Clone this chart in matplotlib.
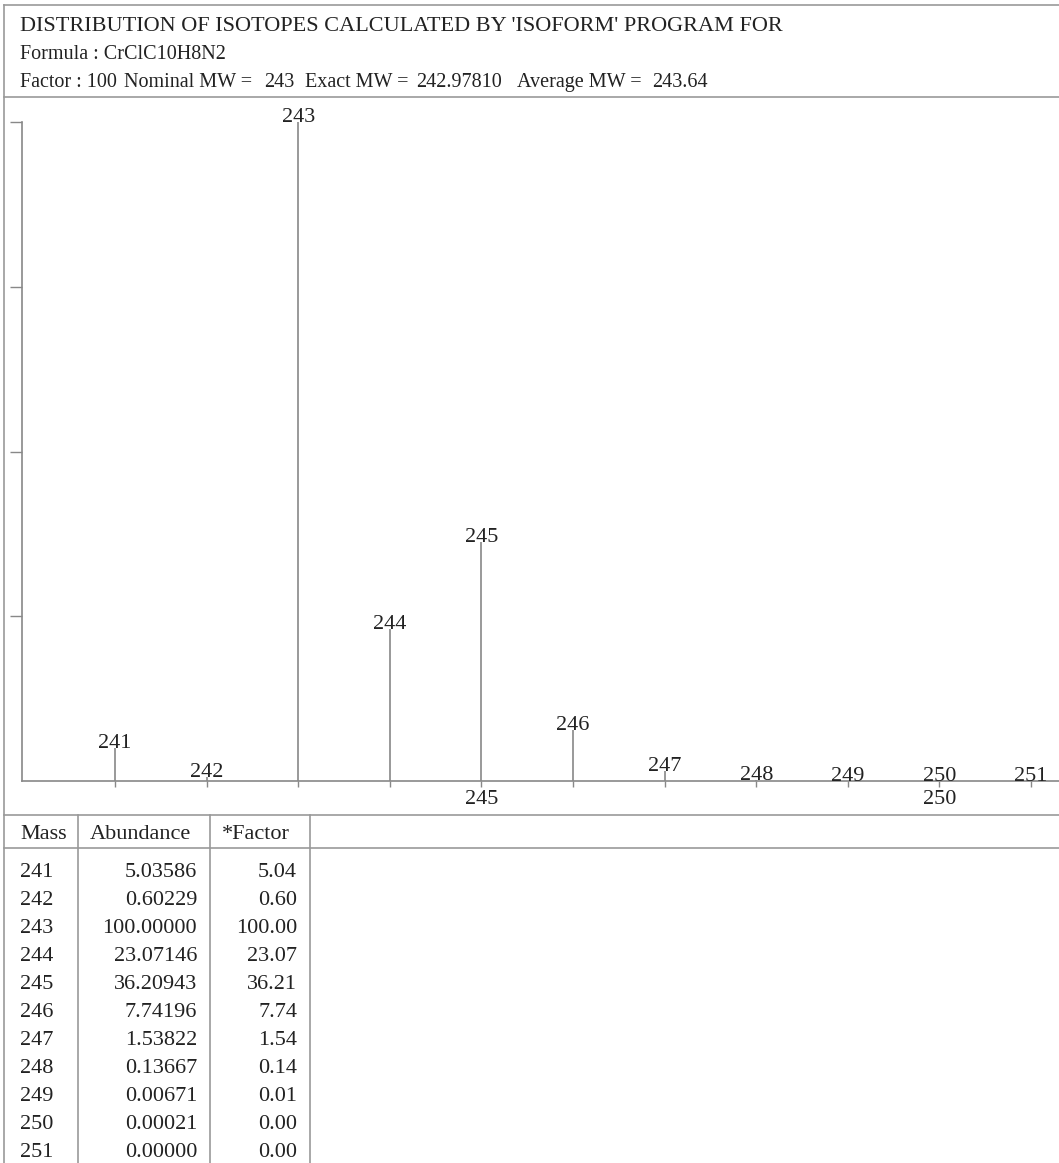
import matplotlib
matplotlib.use("Agg")
import matplotlib.pyplot as plt
from matplotlib.lines import Line2D

# isotope table
masses = [241, 242, 243, 244, 245, 246, 247, 248, 249, 250, 251]
abundance = [5.03586, 0.60229, 100.00000, 23.07146, 36.20943, 7.74196,
             1.53822, 0.13667, 0.00671, 0.00021, 0.00000]
factor = 100
tick_labels = [245, 250]

title = "DISTRIBUTION OF ISOTOPES CALCULATED BY 'ISOFORM' PROGRAM FOR"
formula = "Formula : CrClC10H8N2"
info_parts = [("Factor : 100", 20), ("Nominal MW =", 124), ("243", 264),
              ("Exact MW =", 305), ("242.97810", 416), ("Average MW =", 517),
              ("243.64", 652)]

W, H = 1059, 1163
plt.rcParams['font.family'] = ['Liberation Serif', 'DejaVu Serif']
FS = 16
FS_HEAD = 14.5
TXT = '#222222'
GRID = '#999999'

fig = plt.figure(figsize=(W / 100, H / 100), dpi=100)


def fx(x):
    return x / W


def fy(y):
    return 1 - y / H


def hline(y, x0=4, x1=W, c=GRID):
    fig.add_artist(Line2D([fx(x0), fx(x1)], [fy(y), fy(y)], color=c, lw=1.2,
                          transform=fig.transFigure))


def vline(x, y0, y1, c=GRID):
    fig.add_artist(Line2D([fx(x), fx(x)], [fy(y0), fy(y1)], color=c, lw=1.2,
                          transform=fig.transFigure))


# frame
hline(5)
vline(4, 5, H)
hline(97)
hline(815)
hline(848)
for x in [78, 210, 310]:
    vline(x, 815, H)

# header
fig.text(fx(20), fy(31), title, fontsize=FS, color=TXT, va='baseline')
fig.text(fx(20), fy(59), formula, fontsize=FS_HEAD, color=TXT, va='baseline')
for s, x in info_parts:
    fig.text(fx(x), fy(87), s, fontsize=FS_HEAD, color=TXT, va='baseline')

# spectrum
x_left, x_axis, y_top = 22, 781, 122
px_per_unit = 91.6
ax = fig.add_axes([fx(x_left), fy(x_axis), (W - x_left) / W, (x_axis - y_top) / H])
x0 = masses[0] - (115 - x_left) / px_per_unit
ax.set_xlim(x0, x0 + (W - x_left) / px_per_unit)
ax.set_ylim(0, 100)
ax.patch.set_alpha(0)
for side in ['top', 'right']:
    ax.spines[side].set_visible(False)
for side in ['left', 'bottom']:
    ax.spines[side].set_color('#888888')
    ax.spines[side].set_linewidth(1.2)

peaks = [a * factor / 100 for a in abundance]
ax.vlines(masses, 0, peaks, color='#888888', lw=1.2)
for m, p in zip(masses, peaks):
    ax.text(m, p, str(m), ha='center', va='baseline', fontsize=FS, color=TXT,
            clip_on=False)

ax.set_yticks([25, 50, 75, 100])
ax.set_yticklabels([])
ax.tick_params(axis='y', direction='out', length=8.5, width=1, color='#888888')
ax.set_xticks(tick_labels)
ax.set_xticklabels([str(t) for t in tick_labels], fontsize=FS, color=TXT)
ax.set_xticks(masses, minor=True)
ax.tick_params(axis='x', which='both', direction='out', length=4.5, width=1,
               color='#888888', pad=2)

# table
fig.text(fx(20), fy(839), "Mass", fontsize=FS, color=TXT, va='baseline')
fig.text(fx(90), fy(839), "Abundance", fontsize=FS, color=TXT, va='baseline')
fig.text(fx(222), fy(839), "*Factor", fontsize=FS, color=TXT, va='baseline')
for i, (m, a) in enumerate(zip(masses, abundance)):
    y = 877 + 28 * i
    fig.text(fx(20), fy(y), str(m), fontsize=FS, color=TXT, va='baseline')
    fig.text(fx(197), fy(y), f"{a:.5f}", fontsize=FS, color=TXT, va='baseline', ha='right')
    fig.text(fx(297), fy(y), f"{a * factor / 100:.2f}", fontsize=FS, color=TXT,
             va='baseline', ha='right')

fig.savefig("out.png", dpi=100)
